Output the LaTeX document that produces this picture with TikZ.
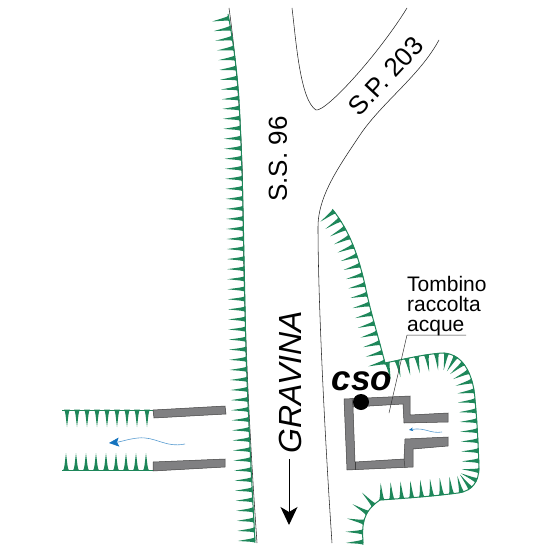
\documentclass[tikz,border=0pt]{standalone}
\usepackage{fontspec}
\setmainfont{Liberation Sans}
\usetikzlibrary{decorations.markings,arrows.meta}
\definecolor{hgreen}{RGB}{30,135,90}
\definecolor{wgray}{RGB}{128,128,130}
\definecolor{fblue}{RGB}{20,115,190}
\tikzset{
  x=1pt,y=-1pt,
  hachure/.style 2 args={draw=hgreen,line width=1pt,
    postaction={decorate,decoration={markings,
      mark=between positions #1 and -0.5pt step #2 with {
        \fill[hgreen] (-3,0.3) .. controls (-1.6,-0.8) and (-1.4,-6) .. (0,-17)
          .. controls (1.4,-6) and (1.6,-0.8) .. (3,0.3) -- cycle;}}}},
  roadline/.style={draw=black!85,line width=0.55pt},
  wall/.style={draw=black!75,fill=wgray,line width=0.5pt},
  wallin/.style={draw=black!75,line width=0.5pt},
  flow/.style={draw=fblue!70,line width=0.6pt},
}
\begin{document}
\begin{tikzpicture}
\useasboundingbox (0,0) rectangle (551,551);
% roads
\draw[roadline] (292,8) .. controls (296,40) and (300,100) .. (316,110) .. controls (326,112) and (378,55) .. (407,8);
\draw[roadline] (439,40) .. controls (420,75) and (385,100) .. (362,132) .. controls (340,165) and (318,195) .. (318,227) .. controls (318,300) and (325,440) .. (332,543);
\draw[roadline] (229,8) .. controls (235,50) and (243,130) .. (243,217) .. controls (244,300) and (247,400) .. (257,543);
% left hachure, bottom to top
\path[hachure={1pt}{10.05pt}] (255,541) .. controls (251,470) and (248,410) .. (246,353) .. controls (244,270) and (243,170) .. (239,100) .. controls (237,70) and (233,40) .. (228,14);
% left branches
\path[hachure={6pt}{10pt}] (153,410) -- (62,410);
\path[hachure={4pt}{10pt}] (62,470) -- (153,470);
% right hachures
\path[hachure={1pt}{10pt}] (385,363) .. controls (375,325) and (370,310) .. (365,285) .. controls (358,255) and (350,232) .. (333,210);
\path[hachure={1pt}{10pt}] (363,543) .. controls (362,525) and (362,512) .. (380,500) .. controls (410,498) and (435,496) .. (458,493) .. controls (472,491) and (479,482) .. (479,467) .. controls (478,440) and (477,420) .. (475,400) .. controls (474,380) and (466,354) .. (443,353) .. controls (425,354) and (405,359) .. (385,363);
% structure
\draw[wall] (344,399) -- (410,396) -- (410,415) -- (448,413) -- (448,422) -- (404,423) -- (403,404) -- (353,407) -- (355,462) -- (404,459) -- (405,439) -- (448,437) -- (448,446) -- (413,449) -- (413,467) -- (347,470) -- cycle;
\draw[wallin] (352,398) -- (353,407);
\draw[wallin] (355,462) -- (355,470);
\draw[wallin] (404,459) -- (405,468);
\draw[wall] (153,410) -- (225,406) -- (226,414) -- (154,418) -- cycle;
\draw[wall] (153,462) -- (225,459) -- (225,467) -- (153,471) -- cycle;
% flow
\draw[flow,-{Stealth[length=10pt,width=9pt,inset=2pt,color=fblue]}] (185,444) .. controls (165,448) and (155,436) .. (138,438) .. controls (128,439) and (120,442) .. (109,443);
\draw[flow,-{Stealth[length=4pt,width=3.500pt,inset=1pt,color=fblue]}] (442,432) .. controls (430,434) and (425,427) .. (409,430);
% leader
\node[circle,fill=black,minimum size=16pt,inner sep=0pt] (pt) at (361,402) {};
\coordinate (ls) at (389,413);
\coordinate (lm) at (407,335);
\coordinate (le) at (466,335);
\draw[black!80,line width=0.5pt] (ls) -- (lm) -- (le);
% arrow
\coordinate (a1) at (289,459);
\coordinate (a2) at (289,525);
\draw[black,line width=1pt,-{Stealth[length=18pt,width=17pt,inset=5pt]}] (a1) -- (a2);
% labels
\node[inner sep=0pt,rotate=90,font=\fontsize{26}{26}\selectfont] (ss) at (278,159) {S.S. 96};
\node[inner sep=0pt,rotate=47,font=\fontsize{26}{26}\selectfont] (sp) at (386,76) {S.P. 203};
\node[inner sep=0pt,rotate=90,font=\fontsize{32}{32}\selectfont\itshape] (gr) at (290,382) {GRAVINA};
\node[inner sep=0pt,font=\fontsize{35}{35}\selectfont\bfseries\itshape] (cso) at (362,381) {cso};
\node[inner sep=0pt,align=left,anchor=north west,font=\fontsize{21}{20}\selectfont] (tb) at (407,276) {Tombino\\raccolta\\acque};
\end{tikzpicture}
\end{document}
